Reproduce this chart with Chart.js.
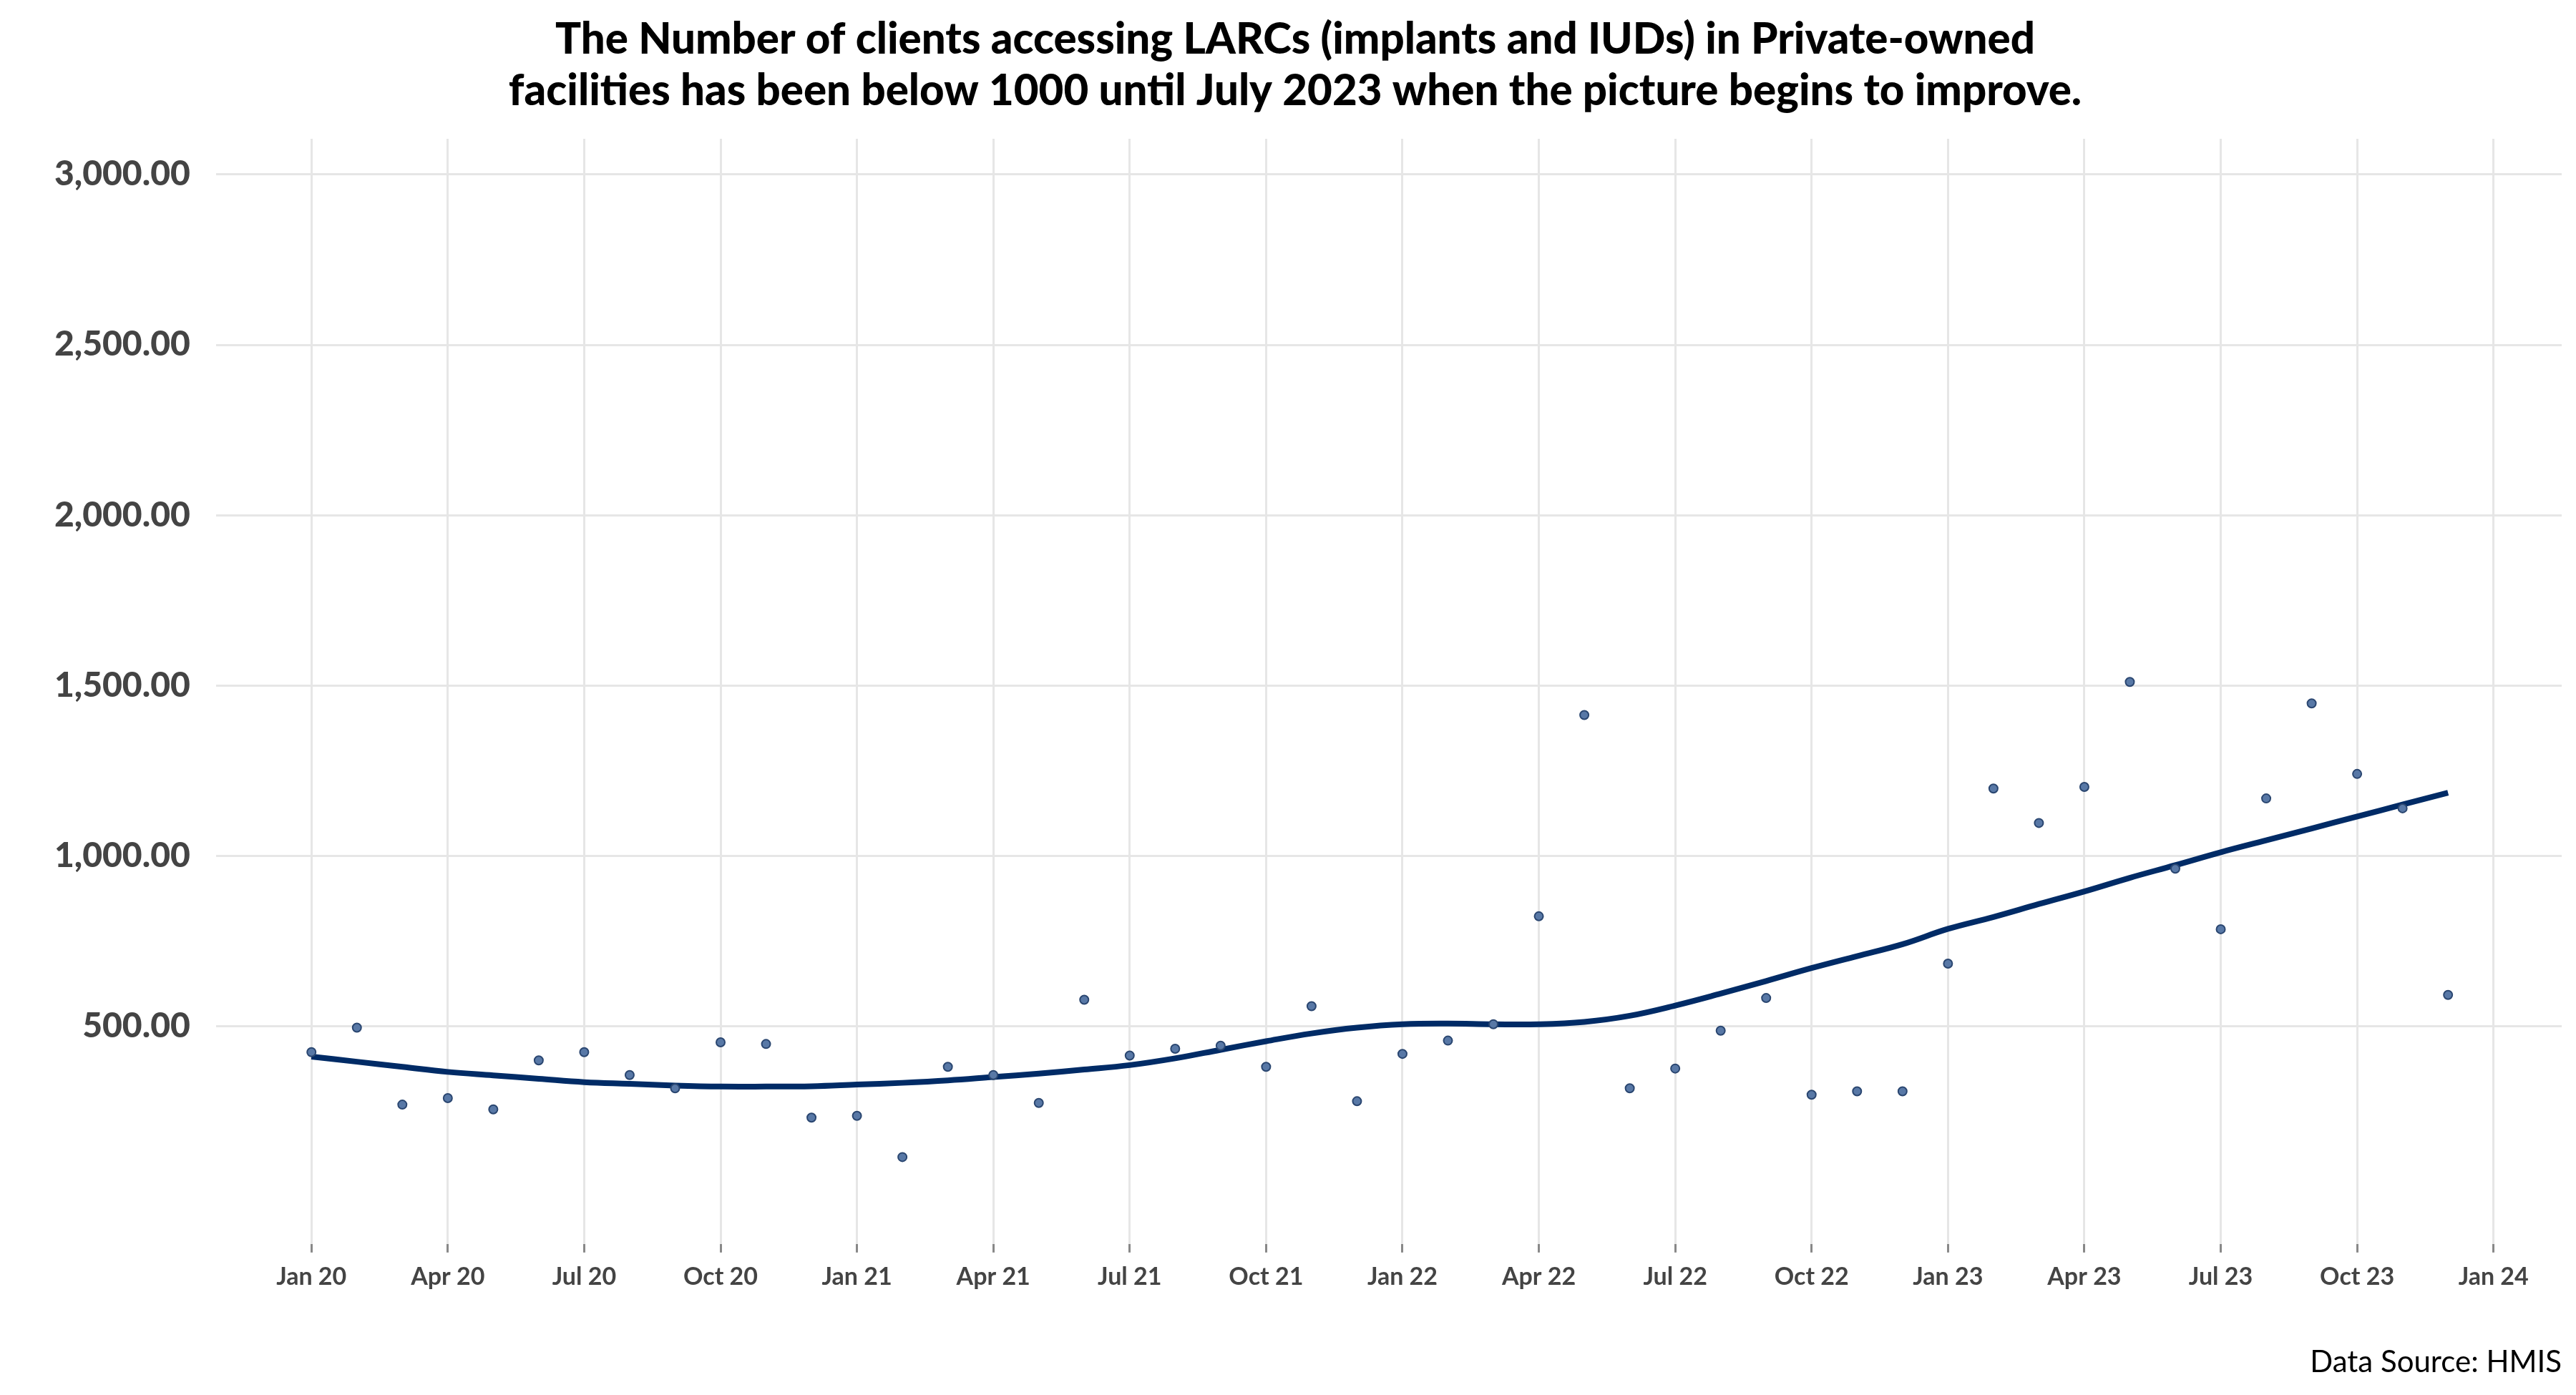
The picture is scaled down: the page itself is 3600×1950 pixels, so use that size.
<!DOCTYPE html>
<html><head><meta charset="utf-8">
<script src="https://cdn.jsdelivr.net/npm/chart.js@4"></script>
<style>html,body{margin:0;padding:0;background:#fff}#c{display:block}</style>
</head><body>
<canvas id="c" width="3600" height="1950"></canvas>
<script>
const monthLabels = ["Jan 20","Apr 20","Jul 20","Oct 20","Jan 21","Apr 21","Jul 21","Oct 21","Jan 22","Apr 22","Jul 22","Oct 22","Jan 23","Apr 23","Jul 23","Oct 23","Jan 24"];
const clients = [423,495,269,288,255,399,423,356,317,452,447,231,236,115,380,356,274,577,413,433,442,380,558,279,418,457,505,822,1413,317,375,486,582,298,308,308,683,1197,1096,1202,1510,962,784,1168,1447,1240,1139,591];
const trend = [410,395,380,365,355,345,335,330,325,322,322,323,328,333,340,350,360,372,385,405,430,455,478,495,505,507,505,505,512,530,560,595,632,670,705,740,785,820,858,895,935,972,1010,1045,1080,1115,1150,1185];
const yTicks = [500,1000,1500,2000,2500,3000];
const FONT = "Lato";
const ctx = document.getElementById('c').getContext('2d');
new Chart(ctx, {
  type: 'line',
  data: { datasets: [
    { type:'line', data: trend.map((v,i)=>({x:i,y:v})), borderColor:'#002b66', borderWidth:8, pointRadius:0, tension:0.4, fill:false, order:2 },
    { type:'scatter', data: clients.map((v,i)=>({x:i,y:v})), backgroundColor:'#5878a6', borderColor:'#2a4670', borderWidth:2, pointRadius:6, order:1 }
  ]},
  options: {
    responsive:false, animation:false, devicePixelRatio:1,
    layout:{padding:{left:40,right:20,top:10,bottom:20}},
    plugins:{
      legend:{display:false}, tooltip:{enabled:false},
      title:{display:true, text:["The Number of clients accessing LARCs (implants and IUDs) in Private-owned","facilities has been below 1000 until July 2023 when the picture begins to improve."], color:'#000', font:{family:FONT,size:60,weight:'900'}, padding:{top:10,bottom:30}, lineHeight:1.1},
      subtitle:{display:true, position:'bottom', align:'end', text:'Data Source: HMIS', color:'#000', font:{family:FONT,size:42}, padding:{top:60,bottom:0}}
    },
    scales:{
      x:{ type:'linear', min:-2.1, max:49.5,
        afterBuildTicks:(s)=>{ s.ticks = monthLabels.map((l,i)=>({value:i*3})); },
        ticks:{ callback:(v)=>monthLabels[v/3], color:'#444', font:{family:FONT,size:34,weight:'bold'}, padding:14, maxRotation:0, autoSkip:false },
        grid:{ color:'#e6e6e6', lineWidth:3, drawTicks:true, tickLength:12, tickColor:'#888' },
        border:{display:false}
      },
      y:{ min:-140, max:3105,
        afterBuildTicks:(s)=>{ s.ticks = yTicks.map(v=>({value:v})); },
        ticks:{ callback:(v)=>v.toLocaleString('en-US',{minimumFractionDigits:2}), color:'#444', font:{family:FONT,size:48,weight:'900'}, padding:36 },
        grid:{ color:'#e6e6e6', lineWidth:3, drawTicks:false },
        border:{display:false}
      }
    }
  }
});
</script>
</body></html>
